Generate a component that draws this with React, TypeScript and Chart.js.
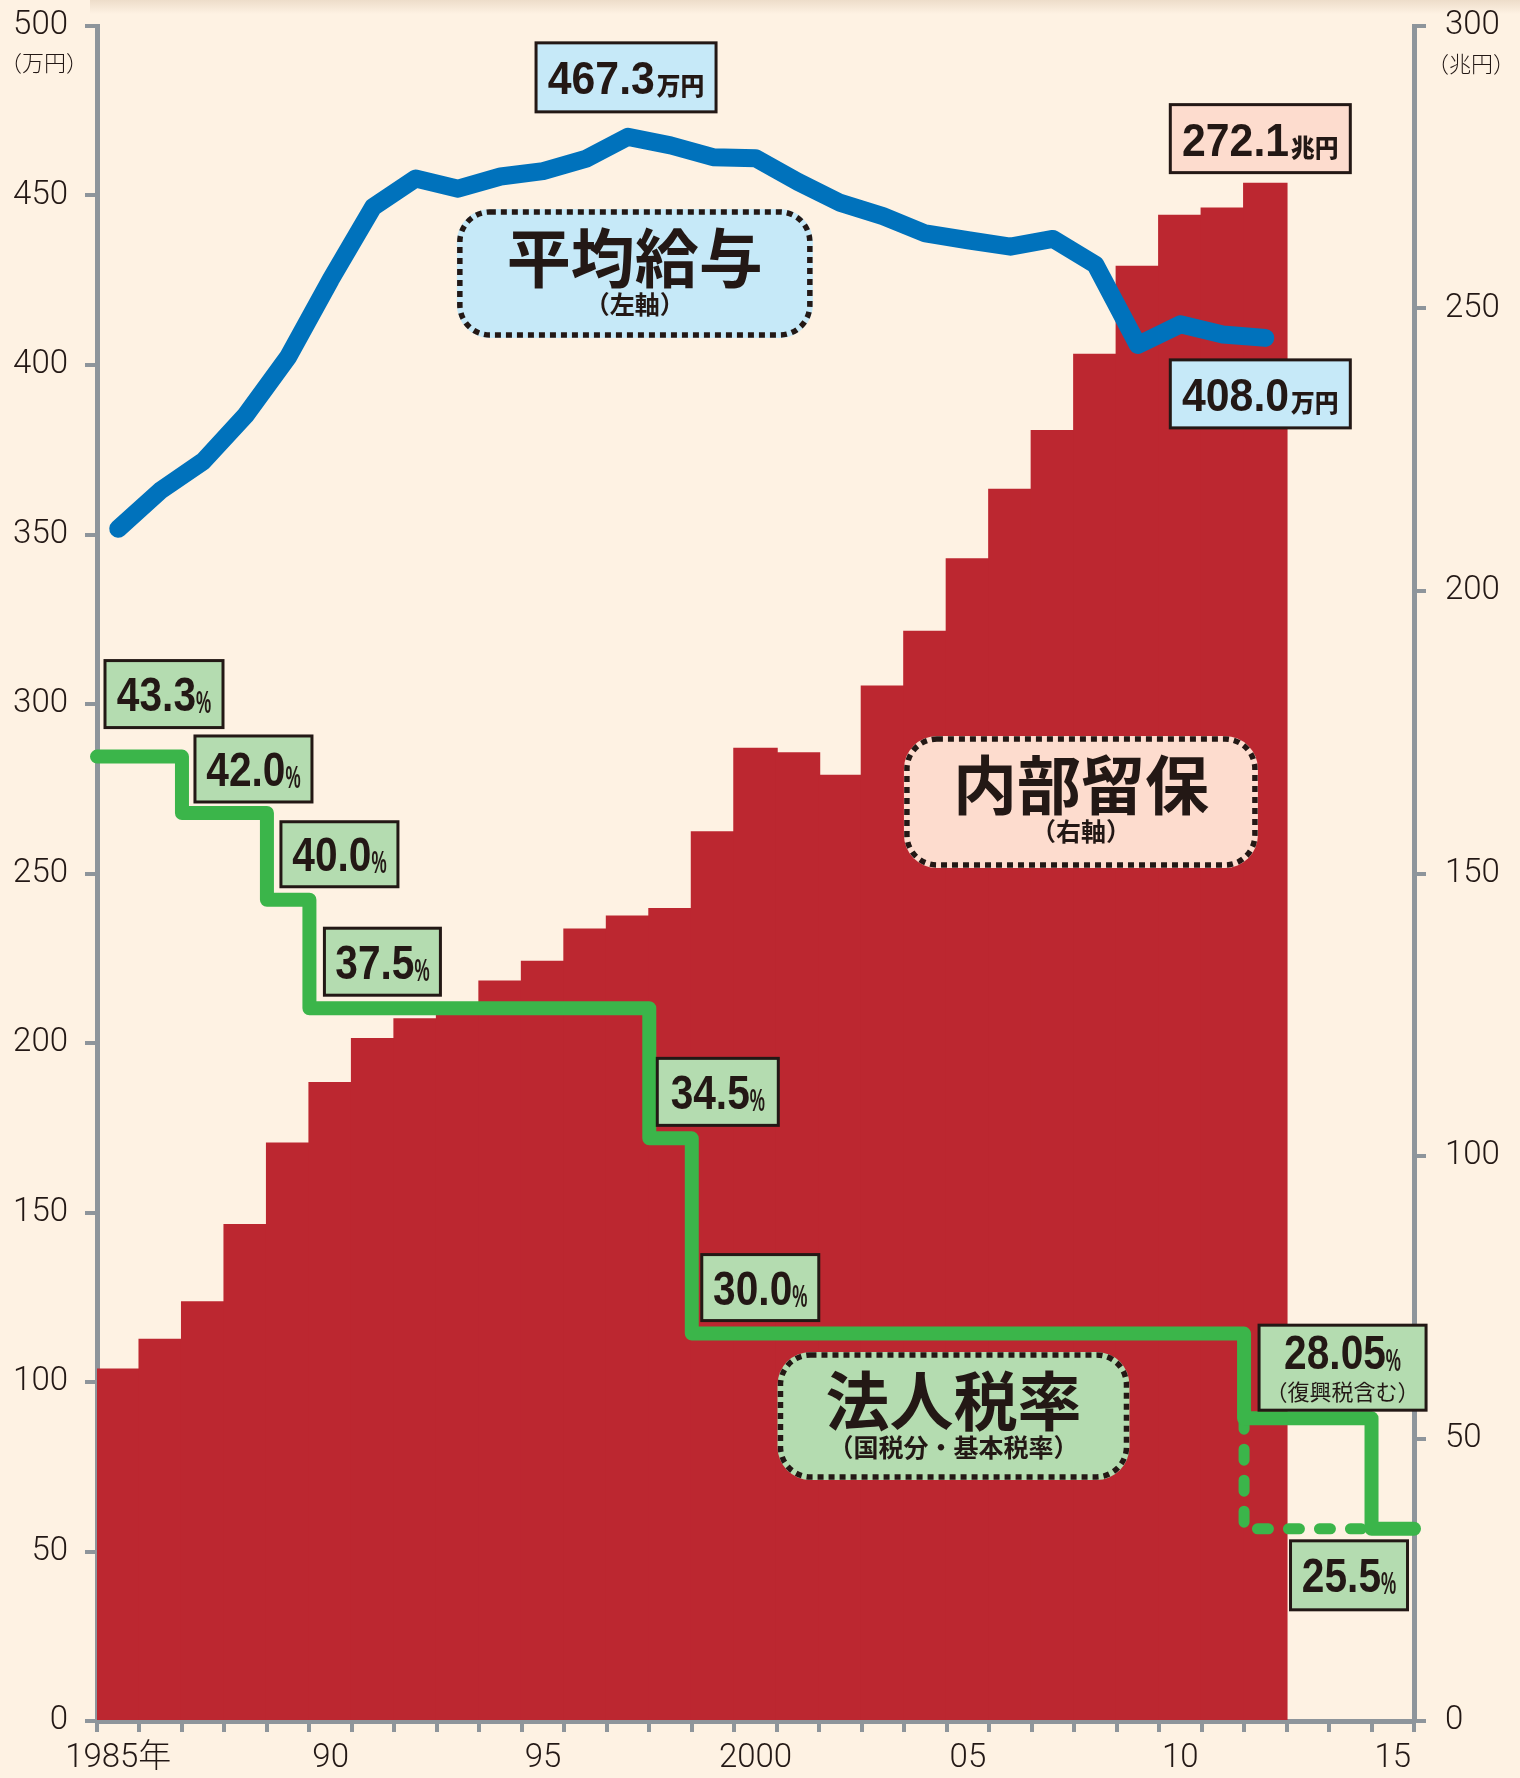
import React, { useEffect, useRef } from 'react';
import { Chart, registerables } from 'chart.js';

Chart.register(...registerables);

// ---------- data ----------
const categories = [
  '1985', '1986', '1987', '1988', '1989', '1990', '1991', '1992', '1993', '1994',
  '1995', '1996', '1997', '1998', '1999', '2000', '2001', '2002', '2003', '2004',
  '2005', '2006', '2007', '2008', '2009', '2010', '2011', '2012', '2013', '2014', '2015',
];
const xTickYears = ['1985', '1990', '1995', '2000', '2005', '2010', '2015'];
const xTickLabels = ['1985年', '90', '95', '2000', '05', '10', '15'];

// 内部留保（兆円, right axis) 1985-2012
const retainedEarnings = [
  62.2, 67.5, 74.1, 87.8, 102.2, 112.9, 120.7, 124.2, 125.5, 130.9,
  134.4, 140.1, 142.4, 143.7, 157.3, 172.1, 171.3, 167.3, 183.1, 192.8,
  205.6, 217.9, 228.3, 241.8, 257.4, 266.4, 267.7, 272.1,
];

// 平均給与（万円, left axis) 1985-2012
const avgSalary = [
  351.7, 363.0, 371.6, 385.2, 402.4, 425.2, 446.6, 455.0, 452.0, 455.6,
  457.2, 460.8, 467.3, 464.8, 461.3, 461.0, 454.0, 447.8, 443.9, 438.8,
  436.8, 434.9, 437.2, 429.6, 405.9, 412.0, 409.0, 408.0,
];

// 法人税率（%）: rate in force from each start year (last entry closes the range)
const taxStartYears = [1985, 1987, 1989, 1990, 1998, 1999, 2012, 2015, 2016];
const taxRates = [43.3, 42.0, 40.0, 37.5, 34.5, 30.0, 28.05, 25.5, 25.5];
// 復興税を除いた場合（破線）
const taxAltStartYears = [2012, 2012, 2016];
const taxAltRates = [28.05, 25.5, 25.5];

const leftAxisMin = 0;
const leftAxisMax = 500;
const leftAxisStep = 50;
const rightAxisMin = 0;
const rightAxisMax = 300;
const rightAxisStep = 50;
const pctAxisMin = 21.07;
const pctAxisMax = 60.14;

// ---------- styles ----------
const BG = '#FEF2E3';
const LABEL_COLOR = '#231815';
const AXIS_GRAY = '#8E959B';
const BAR_RED = '#BC2730';
const SALARY_BLUE = '#0072BC';
const TAX_GREEN = '#3BB54A';
const BOX_BLUE = '#C6E9F8';
const BOX_PINK = '#FDDCCE';
const BOX_GREEN = '#B4DCB0';
const NUM_FONT = '"Liberation Sans", Arial, sans-serif';
const JP_FONT = '"Noto Sans CJK JP", "Noto Sans", sans-serif';
const TICK_FONT = 'Roboto, "Noto Sans CJK JP", sans-serif';

const firstYear = Number(categories[0]);
const taxPoints = taxStartYears.map((y, i) => ({ x: y - firstYear, y: taxRates[i] }));
const taxAltPoints = taxAltStartYears.map((y, i) => ({ x: y - firstYear, y: taxAltRates[i] }));

// label box placement relative to each tax step (pixels)
const taxLabelLayout = [
  { dx: 8, dy: -96, w: 118, h: 67 },
  { dx: 13, dy: -77, w: 117, h: 66 },
  { dx: 14, dy: -78, w: 117, h: 65 },
  { dx: 15, dy: -80, w: 116, h: 67 },
  { dx: 8, dy: -80, w: 121, h: 67 },
  { dx: 10, dy: -79, w: 117, h: 66 },
  { dx: 15, dy: -93, w: 167, h: 85, sub: '（復興税含む）' },
  { dx: -81, dy: 12, w: 117, h: 69 },
];

const callouts = [
  { title: '平均給与', sub: '（左軸）', xv: 12.66, yv: 427.0, w: 350, h: 123, fill: BOX_BLUE },
  { title: '内部留保', sub: '（右軸）', xv: 23.16, yv: 271.1, w: 348, h: 126, fill: BOX_PINK },
  { title: '法人税率', sub: '（国税分・基本税率）', xv: 20.16, yv: 90.0, w: 346, h: 122, fill: BOX_GREEN },
];

function fmtRate(r: number) {
  return r % 1 === 0 ? r.toFixed(1) : String(r);
}

function scaledText(ctx: CanvasRenderingContext2D, text: string, x: number, y: number, sx: number) {
  ctx.save();
  ctx.translate(x, y);
  ctx.scale(sx, 1);
  ctx.textAlign = 'left';
  ctx.fillText(text, 0, 0);
  ctx.restore();
}

function valueBox(
  ctx: CanvasRenderingContext2D, left: number, top: number, w: number, h: number,
  fill: string, num: string, unit: string,
) {
  ctx.save();
  ctx.fillStyle = fill;
  ctx.fillRect(left, top, w, h);
  ctx.lineWidth = 3;
  ctx.strokeStyle = LABEL_COLOR;
  ctx.strokeRect(left, top, w, h);
  ctx.fillStyle = LABEL_COLOR;
  ctx.textBaseline = 'alphabetic';
  const numFont = `bold 47px ${NUM_FONT}`;
  const unitFont = `900 25px ${JP_FONT}`;
  const nsx = 0.91, usx = 0.95, gap = 2;
  ctx.font = numFont;
  const wn = ctx.measureText(num).width * nsx;
  ctx.font = unitFont;
  const wu = ctx.measureText(unit).width * usx;
  let x = left + (w - wn - gap - wu) / 2;
  const base = top + h / 2 + 17;
  ctx.font = numFont;
  scaledText(ctx, num, x, base, nsx);
  x += wn + gap;
  ctx.font = unitFont;
  scaledText(ctx, unit, x, base + 1, usx);
  ctx.restore();
}

function taxBox(
  ctx: CanvasRenderingContext2D, left: number, top: number, w: number, h: number,
  num: string, sub?: string,
) {
  ctx.save();
  ctx.fillStyle = BOX_GREEN;
  ctx.fillRect(left, top, w, h);
  ctx.lineWidth = 3;
  ctx.strokeStyle = LABEL_COLOR;
  ctx.strokeRect(left, top, w, h);
  ctx.fillStyle = LABEL_COLOR;
  ctx.textBaseline = 'alphabetic';
  const numFont = `bold 49px ${NUM_FONT}`;
  const pFont = `bold 31px ${NUM_FONT}`;
  const nsx = 0.83, psx = 0.55, gap = 0;
  ctx.font = numFont;
  const wn = ctx.measureText(num).width * nsx;
  ctx.font = pFont;
  const wp = ctx.measureText('%').width * psx;
  let x = left + (w - wn - gap - wp) / 2;
  const base = sub ? top + 44 : top + h / 2 + 17;
  ctx.font = numFont;
  scaledText(ctx, num, x, base, nsx);
  x += wn + gap;
  ctx.font = pFont;
  scaledText(ctx, '%', x, base + 2, psx);
  if (sub) {
    ctx.font = `22px ${JP_FONT}`;
    ctx.textAlign = 'center';
    ctx.textBaseline = 'middle';
    ctx.fillText(sub, left + w / 2, top + 66);
  }
  ctx.restore();
}

function dottedBox(
  ctx: CanvasRenderingContext2D, cx: number, cy: number, w: number, h: number,
  fill: string, title: string, sub: string,
) {
  const x = cx - w / 2;
  const y = cy - h / 2;
  ctx.save();
  ctx.beginPath();
  ctx.roundRect(x - 3, y - 3, w + 6, h + 6, 33);
  ctx.fillStyle = fill;
  ctx.fill();
  ctx.beginPath();
  ctx.roundRect(x, y, w, h, 30);
  ctx.setLineDash([6, 5]);
  ctx.lineWidth = 5.5;
  ctx.lineCap = 'butt';
  ctx.strokeStyle = LABEL_COLOR;
  ctx.stroke();
  ctx.setLineDash([]);
  ctx.fillStyle = LABEL_COLOR;
  ctx.textAlign = 'center';
  ctx.textBaseline = 'middle';
  ctx.font = `bold 64px ${JP_FONT}`;
  ctx.fillText(title, cx, y + 46);
  ctx.font = `bold 25px ${JP_FONT}`;
  ctx.fillText(sub, cx, y + 93);
  ctx.restore();
}

const decorPlugin = {
  id: 'decor',
  beforeDraw(chart: any) {
    const { ctx, width, height } = chart;
    ctx.save();
    ctx.fillStyle = BG;
    ctx.fillRect(0, 0, width, height);
    const g = ctx.createLinearGradient(0, 0, 0, 14);
    g.addColorStop(0, 'rgba(150,110,70,0.16)');
    g.addColorStop(1, 'rgba(150,110,70,0)');
    ctx.fillStyle = g;
    ctx.fillRect(90, 0, width - 90, 14);
    ctx.restore();
  },
  afterDraw(chart: any) {
    const { ctx, chartArea: ca, scales } = chart;
    const xs = scales.x, xl = scales.xLin, yL = scales.yL, yR = scales.yR, yP = scales.yPct;

    // axis unit labels
    ctx.save();
    ctx.fillStyle = LABEL_COLOR;
    ctx.font = `300 22px ${JP_FONT}`;
    ctx.textAlign = 'center';
    ctx.textBaseline = 'middle';
    ctx.fillText('（万円）', ca.left - 53, ca.top + 37);
    ctx.fillText('（兆円）', ca.right + 57, ca.top + 38);
    ctx.restore();

    // callout boxes
    callouts.forEach((c) => {
      dottedBox(ctx, xl.getPixelForValue(c.xv), yL.getPixelForValue(c.yv), c.w, c.h, c.fill, c.title, c.sub);
    });

    // value labels
    const peak = avgSalary.indexOf(Math.max(...avgSalary));
    valueBox(ctx, xs.getPixelForValue(peak) - 2 - 90, yL.getPixelForValue(avgSalary[peak]) - 25 - 69,
      180, 69, BOX_BLUE, avgSalary[peak].toFixed(1), '万円');
    const lastR = retainedEarnings.length - 1;
    valueBox(ctx, xs.getPixelForValue(lastR) - 5 - 90, yR.getPixelForValue(retainedEarnings[lastR]) - 11 - 68,
      180, 68, BOX_PINK, retainedEarnings[lastR].toFixed(1), '兆円');
    const lastS = avgSalary.length - 1;
    valueBox(ctx, xs.getPixelForValue(lastS) - 5 - 90, yL.getPixelForValue(avgSalary[lastS]) + 22,
      180, 68, BOX_BLUE, avgSalary[lastS].toFixed(1), '万円');

    // tax rate labels
    taxLabelLayout.forEach((l, i) => {
      const px = xl.getPixelForValue(taxPoints[i].x);
      const py = yP.getPixelForValue(taxRates[i]);
      taxBox(ctx, px + l.dx, py + l.dy, l.w, l.h, fmtRate(taxRates[i]), (l as any).sub);
    });
  },
};

const tickFont = { family: TICK_FONT, size: 33, weight: '300' as any };

export default function App() {
  const ref = useRef<HTMLCanvasElement>(null);
  useEffect(() => {
    document.body.style.margin = '0';
    const canvas = ref.current!;
    const axisGrid = {
      drawOnChartArea: false,
      drawTicks: true,
      tickLength: 12,
      tickWidth: 4,
      tickColor: AXIS_GRAY,
      color: AXIS_GRAY,
      lineWidth: 4,
    };
    const axisBorder = { display: true, color: AXIS_GRAY, width: 5 };
    const fitY = (w: number) => (s: any) => {
      s.width = w;
      s.paddingTop = 0;
      s.paddingBottom = 0;
    };
    const chart = new Chart(canvas, {
      type: 'bar',
      data: {
        labels: categories,
        datasets: [
          {
            type: 'line',
            label: '平均給与',
            data: avgSalary,
            xAxisID: 'x',
            yAxisID: 'yL',
            borderColor: SALARY_BLUE,
            borderWidth: 18,
            borderCapStyle: 'round',
            borderJoinStyle: 'round',
            pointRadius: 0,
            tension: 0,
            order: 0,
            clip: false,
          } as any,
          {
            type: 'line',
            label: '法人税率',
            data: taxPoints,
            xAxisID: 'xLin',
            yAxisID: 'yPct',
            stepped: true,
            borderColor: TAX_GREEN,
            borderWidth: 14,
            borderCapStyle: 'round',
            borderJoinStyle: 'round',
            pointRadius: 0,
            order: 1,
            clip: false,
          } as any,
          {
            type: 'line',
            label: '法人税率（復興税除く）',
            data: taxAltPoints,
            xAxisID: 'xLin',
            yAxisID: 'yPct',
            stepped: true,
            borderColor: TAX_GREEN,
            borderWidth: 11,
            borderDash: [11, 20],
            borderCapStyle: 'round',
            borderJoinStyle: 'round',
            pointRadius: 0,
            order: 2,
            clip: false,
          } as any,
          {
            type: 'bar',
            label: '内部留保',
            data: retainedEarnings,
            xAxisID: 'x',
            yAxisID: 'yR',
            backgroundColor: BAR_RED,
            borderWidth: 0,
            inflateAmount: 1,
            barPercentage: 1,
            categoryPercentage: 1,
            grouped: false,
            order: 3,
          } as any,
        ],
      },
      options: {
        responsive: false,
        animation: false,
        devicePixelRatio: 1,
        layout: { padding: { top: 26, left: 0, right: 0, bottom: 0 } },
        plugins: { legend: { display: false }, tooltip: { enabled: false } },
        scales: {
          x: {
            type: 'category',
            position: 'bottom',
            offset: true,
            grid: { ...axisGrid, offset: true, tickLength: 11 },
            border: axisBorder,
            ticks: {
              autoSkip: false,
              maxRotation: 0,
              minRotation: 0,
              padding: 7,
              color: LABEL_COLOR,
              font: tickFont,
              callback: (_v: any, i: number) => {
                const k = xTickYears.indexOf(categories[i]);
                return k >= 0 ? xTickLabels[k] : '';
              },
            },
            afterFit: (s: any) => { s.height = 57; },
          },
          xLin: {
            type: 'linear',
            display: false,
            position: 'bottom',
            offset: false,
            grid: { offset: false },
            min: 0,
            max: categories.length,
          },
          yL: {
            type: 'linear',
            position: 'left',
            min: leftAxisMin,
            max: leftAxisMax,
            grid: axisGrid,
            border: axisBorder,
            ticks: { stepSize: leftAxisStep, padding: 17, color: LABEL_COLOR, font: tickFont },
            afterFit: fitY(97),
          },
          yR: {
            type: 'linear',
            position: 'right',
            min: rightAxisMin,
            max: rightAxisMax,
            grid: axisGrid,
            border: axisBorder,
            ticks: { stepSize: rightAxisStep, padding: 19, color: LABEL_COLOR, font: tickFont },
            afterFit: fitY(106),
          },
          yPct: {
            type: 'linear',
            display: false,
            position: 'left',
            min: pctAxisMin,
            max: pctAxisMax,
          },
        },
      } as any,
      plugins: [decorPlugin],
    });
    return () => chart.destroy();
  }, []);

  return (
    <div style={{ width: 1520, height: 1778, background: BG }}>
      <canvas ref={ref} width={1520} height={1778} style={{ display: 'block', width: 1520, height: 1778 }} />
    </div>
  );
}
